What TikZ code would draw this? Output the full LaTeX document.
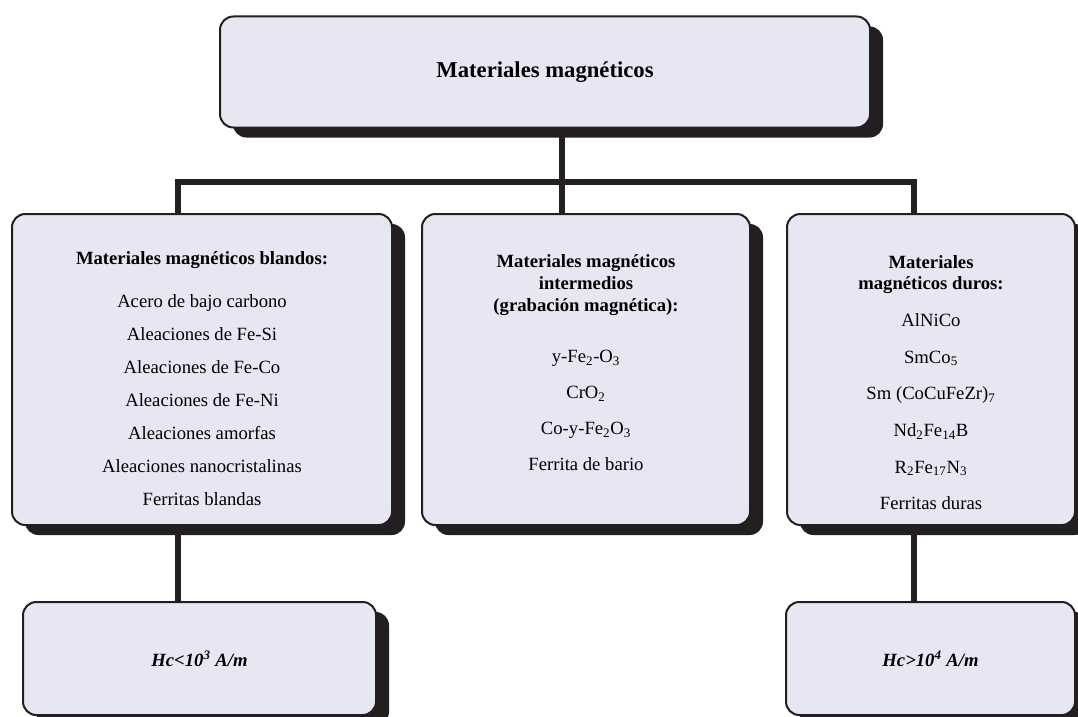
\documentclass[tikz,border=0pt]{standalone}
\usepackage{fontspec}
\setmainfont{Liberation Serif}
\usepackage{xcolor}
\usepackage{tikz}
\usetikzlibrary{shadows, positioning, calc}
\definecolor{inkColor}{RGB}{35,31,32}
\definecolor{lilaColor}{RGB}{231,231,243}
% raise the first line / lower the last line of a box
\newcommand{\toprule}[1]{\rule{0pt}{#1}}
\newcommand{\botrule}[1]{\rule[-#1]{0pt}{#1}}

\begin{document}
\begin{tikzpicture}[
    x=0.75pt, y=-0.75pt,
    box/.style={rectangle, rounded corners=10pt, draw=inkColor, line width=1.5pt, fill=lilaColor, inner sep=0pt, outer sep=0pt, align=center,
        font=\fontsize{14}{17}\selectfont,
        drop shadow={shadow xshift=9.75pt, shadow yshift=-7.5pt, fill=inkColor, opacity=1}},
    titlebox/.style={box, minimum width=487.5pt, minimum height=83.25pt, font=\fontsize{17}{20}\selectfont\bfseries},
    groupbox/.style={box, minimum height=233.25pt},
    coerbox/.style={box, minimum height=84.75pt, font=\fontsize{14}{17}\selectfont\bfseries\itshape},
    conn/.style={draw=inkColor, line width=4pt}
]
    \useasboundingbox (0,0) rectangle (1078,717);

    % Title
    \node[titlebox] (titulo) at (545, 72) {Materiales magnéticos};

    % Groups
    \node[groupbox, minimum width=285pt] (blandos) at (202, 369.5) {%
        \toprule{23pt}\textbf{Materiales magnéticos blandos:}\\[15.25pt]
        Acero de bajo carbono\\[7.75pt]
        Aleaciones de Fe-Si\\[7.75pt]
        Aleaciones de Fe-Co\\[7.75pt]
        Aleaciones de Fe-Ni\\[7.75pt]
        Aleaciones amorfas\\[7.75pt]
        Aleaciones nanocristalinas\\[7.75pt]
        Ferritas blandas};
    \node[groupbox, minimum width=246pt] (intermedios) at (586, 369.5) {%
        \textbf{Materiales magnéticos}\\[-0.5pt]
        \textbf{intermedios}\\[-0.5pt]
        \textbf{(grabación magnética):}\\[21.75pt]
        y-Fe\textsubscript{2}-O\textsubscript{3}\\[10pt]
        CrO\textsubscript{2}\\[10pt]
        Co-y-Fe\textsubscript{2}O\textsubscript{3}\\[10pt]
        Ferrita de bario\botrule{10.25pt}};
    \node[groupbox, minimum width=216pt] (duros) at (931, 369.5) {%
        \toprule{29.5pt}\textbf{Materiales}\\[-1pt]
        \textbf{magnéticos duros:}\\[10.5pt]
        AlNiCo\\[10.5pt]
        SmCo\textsubscript{5}\\[10.5pt]
        Sm (CoCuFeZr)\textsubscript{7}\\[10.5pt]
        Nd\textsubscript{2}Fe\textsubscript{14}B\\[10.5pt]
        R\textsubscript{2}Fe\textsubscript{17}N\textsubscript{3}\\[10.5pt]
        Ferritas duras};

    % Coercivity
    \node[coerbox, minimum width=264.75pt] (hcBajo) at (199.5, 658.5) {Hc<10\textsuperscript{3} A/m};
    \node[coerbox, minimum width=216.75pt] (hcAlto) at (930.5, 658.5) {Hc>10\textsuperscript{4} A/m};

    % Connectors
    \coordinate (barL) at (178, 182);
    \coordinate (barC) at (562, 182);
    \coordinate (barR) at (914, 182);
    \draw[conn] (titulo.south -| barC) -- (barC);
    \draw[conn] (blandos.north -| barL) |- (barR) -- (duros.north -| barR);
    \draw[conn] (barC) -- (intermedios.north -| barC);
    \draw[conn] (blandos.south -| barL) -- (hcBajo.north -| barL);
    \draw[conn] (duros.south -| barR) -- (hcAlto.north -| barR);
\end{tikzpicture}
\end{document}
